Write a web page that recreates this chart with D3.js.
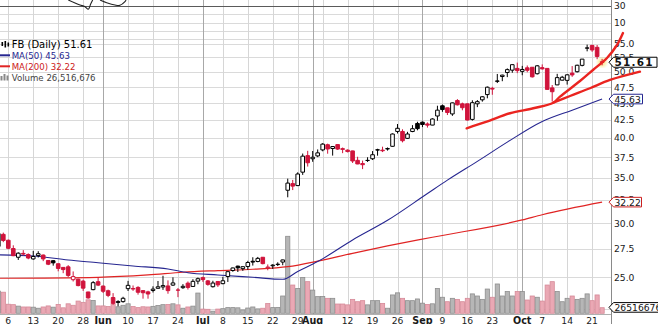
<!DOCTYPE html>
<html>
<head>
<meta charset="utf-8">
<script src="https://cdn.jsdelivr.net/npm/d3@7/dist/d3.min.js"></script>
<style>
  html, body { margin: 0; padding: 0; background: #fff; }
  svg { display: block; font-family: "DejaVu Sans", Verdana, sans-serif; }
</style>
</head>
<body>
<svg id="chart" width="658" height="324"></svg>
<script>
// FB daily candles, 2 May – 23 Oct 2013
const dates = [
  "2013-05-02","2013-05-03","2013-05-06","2013-05-07","2013-05-08","2013-05-09","2013-05-10","2013-05-13","2013-05-14","2013-05-15","2013-05-16","2013-05-17","2013-05-20","2013-05-21","2013-05-22","2013-05-23","2013-05-24","2013-05-28","2013-05-29","2013-05-30","2013-05-31",
  "2013-06-03","2013-06-04","2013-06-05","2013-06-06","2013-06-07","2013-06-10","2013-06-11","2013-06-12","2013-06-13","2013-06-14","2013-06-17","2013-06-18","2013-06-19","2013-06-20","2013-06-21","2013-06-24","2013-06-25","2013-06-26","2013-06-27","2013-06-28",
  "2013-07-01","2013-07-02","2013-07-03","2013-07-05","2013-07-08","2013-07-09","2013-07-10","2013-07-11","2013-07-12","2013-07-15","2013-07-16","2013-07-17","2013-07-18","2013-07-19","2013-07-22","2013-07-23","2013-07-24","2013-07-25","2013-07-26","2013-07-29","2013-07-30","2013-07-31",
  "2013-08-01","2013-08-02","2013-08-05","2013-08-06","2013-08-07","2013-08-08","2013-08-09","2013-08-12","2013-08-13","2013-08-14","2013-08-15","2013-08-16","2013-08-19","2013-08-20","2013-08-21","2013-08-22","2013-08-23","2013-08-26","2013-08-27","2013-08-28","2013-08-29","2013-08-30",
  "2013-09-03","2013-09-04","2013-09-05","2013-09-06","2013-09-09","2013-09-10","2013-09-11","2013-09-12","2013-09-13","2013-09-16","2013-09-17","2013-09-18","2013-09-19","2013-09-20","2013-09-23","2013-09-24","2013-09-25","2013-09-26","2013-09-27","2013-09-30",
  "2013-10-01","2013-10-02","2013-10-03","2013-10-04","2013-10-07","2013-10-08","2013-10-09","2013-10-10","2013-10-11","2013-10-14","2013-10-15","2013-10-16","2013-10-17","2013-10-18","2013-10-21","2013-10-22","2013-10-23"
];
const open = [
  27.75,28.90,28.33,27.55,26.75,27.10,27.00,26.60,26.90,26.95,26.46,26.44,26.17,25.85,25.90,24.80,24.84,24.68,23.79,23.98,24.63,
  24.27,23.89,23.35,23.03,23.03,24.06,24.07,24.16,23.90,23.80,23.91,24.09,24.20,24.28,24.35,23.95,24.14,24.51,24.24,24.68,
  24.97,24.70,24.22,24.65,24.47,25.07,25.58,25.96,25.74,25.93,26.39,26.37,26.75,25.82,25.99,26.10,26.32,33.54,34.30,34.07,35.65,37.70,
  37.30,37.66,38.43,39.11,38.61,39.13,38.59,38.40,38.30,37.10,36.70,37.10,37.30,38.45,38.40,38.60,38.90,40.90,40.90,39.96,40.89,42.02,
  42.20,41.95,41.79,43.09,44.60,44.30,43.39,45.40,44.90,44.90,42.60,44.90,45.51,46.32,47.30,48.50,49.23,49.90,50.30,50.60,
  50.10,50.70,50.80,49.70,50.73,50.60,47.38,47.86,48.63,48.60,49.80,50.04,51.12,54.18,54.68,54.33,51.75
];
const high = [
  29.05,29.07,28.40,27.85,27.20,27.40,27.10,27.33,27.30,27.00,26.50,26.50,26.18,25.88,26.05,25.50,24.88,24.80,23.81,24.68,24.95,
  24.32,23.98,23.70,23.14,23.41,24.70,24.32,24.26,23.95,23.89,24.25,24.69,25.13,24.74,25.00,24.11,24.43,24.65,24.84,24.98,
  25.06,24.77,24.71,24.66,25.04,25.49,25.83,26.00,25.93,26.43,26.75,26.78,26.77,26.11,26.13,26.30,26.53,34.88,34.73,35.63,37.96,38.31,
  38.29,38.49,39.32,39.25,38.94,39.19,38.74,38.50,38.32,37.55,37.07,37.49,38.28,38.58,38.85,38.75,40.63,41.94,41.20,40.85,41.78,42.26,
  42.30,42.17,42.76,44.61,44.79,44.30,45.09,45.62,45.08,44.94,45.44,45.47,46.05,47.60,47.55,49.66,49.54,50.60,51.28,51.60,
  51.03,51.10,50.80,51.16,51.29,50.60,47.84,49.68,49.34,49.63,51.00,51.24,52.22,54.83,54.81,54.76,52.25
];
const low = [
  27.51,28.15,27.48,26.85,26.51,26.90,26.57,26.53,26.73,26.40,26.05,26.00,25.51,25.35,25.02,24.65,24.25,23.88,23.26,23.93,24.27,
  23.71,23.38,22.79,22.67,22.95,23.87,23.88,23.58,23.26,23.26,23.75,24.08,23.96,23.65,24.28,23.38,24.04,23.99,24.21,24.42,
  24.62,24.30,24.15,24.20,24.42,24.61,25.47,25.45,25.55,25.65,26.01,26.30,26.12,25.60,25.72,25.97,26.04,32.75,33.56,34.01,35.32,36.33,
  36.92,37.50,38.25,37.94,37.70,38.43,38.01,38.10,36.77,36.62,36.02,36.90,37.14,37.69,38.15,38.34,38.85,40.62,39.42,39.88,40.80,41.06,
  41.51,41.44,41.77,42.40,43.70,43.23,43.11,44.65,43.93,42.43,42.43,44.40,45.23,45.74,46.29,48.16,48.46,49.13,49.86,49.80,
  49.45,49.95,49.06,49.57,50.40,47.08,45.26,47.83,48.57,47.91,49.18,49.90,50.95,53.60,53.51,52.20,51.13
];
const close = [
  28.97,28.31,27.57,26.89,27.12,27.04,26.68,26.82,27.07,26.60,26.13,26.25,25.76,25.66,25.16,25.06,24.31,24.10,23.32,24.55,24.35,
  23.85,23.52,22.90,22.97,23.29,24.33,24.03,23.77,23.73,23.63,24.02,24.21,24.31,23.90,24.53,23.94,24.25,24.16,24.66,24.88,
  24.81,24.41,24.52,24.37,24.71,25.48,25.80,25.81,25.91,26.28,26.32,26.65,26.18,25.88,26.05,26.13,26.51,34.36,34.01,35.43,37.63,36.80,
  37.49,38.05,39.19,38.55,38.87,38.54,38.50,38.22,37.02,36.65,36.56,37.08,37.81,38.41,38.32,38.55,40.55,41.34,39.64,40.55,41.28,41.29,
  41.87,41.78,42.66,43.95,44.04,43.60,45.04,44.75,44.31,42.51,45.07,45.23,45.98,47.49,47.19,48.45,49.46,50.39,51.24,50.23,
  50.42,50.28,49.18,51.04,50.52,47.14,46.77,49.05,49.11,49.51,49.50,51.14,52.21,54.22,53.85,52.68,51.61
];
// Volume in millions of shares
const volume = [
  105,100,43,41,34,30,30,29,24,30,35,29,42,26,45,38,58,52,64,61,35,
  35,32,45,31,38,45,32,27,31,30,33,37,41,42,45,40,24,30,34,96,
  20,19,10,20,22,27,27,26,16,25,30,21,24,46,27,28,82,365,134,118,170,150,
  110,79,80,71,71,44,44,40,66,55,60,40,60,60,47,24,87,97,71,60,60,68,
  48,42,45,118,76,55,71,66,55,71,92,82,66,115,76,139,82,103,82,103,
  103,63,82,76,58,134,150,103,55,71,82,66,71,92,60,87,26.516676
];

// Moving averages, sampled by trading-day position
const ma50Day = [0, 7, 14, 20, 27, 34, 38, 44, 51, 57, 60, 64, 71, 78, 86, 90, 96, 102, 109, 115, 121];
const ma50Val = [26.97, 26.87, 26.50, 26.26, 25.97, 25.71, 25.39, 25.20, 25.00, 24.83, 25.50, 26.36, 28.36, 30.30, 33.17, 34.70, 36.97, 39.45, 42.30, 43.95, 45.63];
const ma200Day = [0, 20, 30, 37, 44, 51, 58, 64, 71, 78, 87, 105, 109, 121];
const ma200Val = [24.92, 25.00, 25.20, 25.43, 25.57, 25.69, 25.91, 26.40, 27.11, 27.79, 28.62, 30.34, 30.88, 32.22];

// Hand-drawn trend lines and doodle, as [trading-day position, price]
const trendLower = [[93.86,41.34],[97.87,42.27],[102.54,43.49],[107.21,44.23],[111.22,45.07],[112.56,46.0],[116.57,48.49],[119.17,50.33],[121.98,52.41],[123.98,54.76],[125.18,57.02]];
const trendUpper = [[111.22,45.07],[114.57,46.10],[118.57,47.32],[122.58,48.66],[128.59,50.04]];
const doodleA = [[14.02,63.74],[15.37,63.10],[16.37,62.67],[17.37,62.32],[18.03,61.77],[18.51,62.89],[18.91,63.74]];
const doodleB = [[20.38,63.74],[21.72,63.16],[23.38,62.67],[24.38,62.61],[25.38,63.38],[25.59,63.74]];

// Axis ticks
const priceTicks = [25, 27.5, 30, 32.5, 35, 37.5, 40, 42.5, 45, 47.5, 50, 52.5, 55];
const priceGrid = [22.5].concat(priceTicks);
const topTicks = [30, 10];
const topGrid = [20, 10, 0, -10];
const tickDates = ["2013-05-06","2013-05-13","2013-05-20","2013-05-28","2013-06-03","2013-06-10","2013-06-17","2013-06-24","2013-07-01","2013-07-08","2013-07-15","2013-07-22","2013-07-29","2013-08-01","2013-08-05","2013-08-12","2013-08-19","2013-08-26","2013-09-03","2013-09-09","2013-09-16","2013-09-23","2013-09-30","2013-10-01","2013-10-07","2013-10-14","2013-10-21"];
const tickText = ["6","13","20","28","Jun","10","17","24","Jul","8","15","22","29","Aug","","12","19","26","Sep","9","16","23","","Oct","7","14","21"];

const lastClose = 51.61, lastMa50 = 45.63, lastMa200 = 32.22, lastVolume = 26516676;

// ---------------------------------------------------------------------------
const RED = "#d0143c", BLACK = "#000", NAVY = "#262690", MA_RED = "#e02424";
const plotRight = 611, plotBottom = 314;
const svg = d3.select("#chart");

const x = d3.scaleLinear().domain([0, dates.length - 1]).range([-1.68, 602.1]);
const y = d3.scaleLog().domain([25, 55]).range([277.3, 43.7]);
const yTop = d3.scaleLinear().domain([10, 30]).range([22.7, 6]);
const yVol = d3.scaleLinear().domain([0, 365]).range([313.3, 236.3]);

const crisp = v => Math.round(v) + 0.5;

svg.append("defs").append("clipPath").attr("id", "plot")
  .append("rect").attr("x", 0).attr("y", 0).attr("width", plotRight).attr("height", plotBottom);
svg.select("defs").append("filter").attr("id", "glow")
  .append("feGaussianBlur").attr("stdDeviation", 1.6);

// Grid
const grid = svg.append("g").attr("shape-rendering", "crispEdges");
grid.selectAll("line.hp").data(priceGrid).join("line")
  .attr("x1", 0).attr("x2", plotRight)
  .attr("y1", d => crisp(y(d))).attr("y2", d => crisp(y(d)))
  .attr("stroke", "#dadada");
grid.selectAll("line.ht").data(topGrid).join("line")
  .attr("x1", 0).attr("x2", plotRight)
  .attr("y1", d => crisp(yTop(d))).attr("y2", d => crisp(yTop(d)))
  .attr("stroke", "#dadada");
const tickRows = tickDates.map((d, k) => ({ j: dates.indexOf(d), label: tickText[k], month: /[A-Za-z]/.test(tickText[k]) }));
grid.selectAll("line.v").data(tickRows).join("line")
  .attr("x1", d => crisp(x(d.j))).attr("x2", d => crisp(x(d.j)))
  .attr("y1", 0).attr("y2", plotBottom)
  .attr("stroke", d => d.month ? "#a8a8a8" : "#d6d6d6");
grid.append("line").attr("x1", 0).attr("x2", plotRight)
  .attr("y1", crisp(yTop(30))).attr("y2", crisp(yTop(30))).attr("stroke", "#5a5a5a");
grid.append("line").attr("x1", 0).attr("x2", plotRight)
  .attr("y1", plotBottom + 0.5).attr("y2", plotBottom + 0.5).attr("stroke", "#b0b0b0");

// Data rows
const rows = dates.map((d, j) => ({
  j, o: open[j], h: high[j], l: low[j], c: close[j], v: volume[j],
  down: j > 0 ? close[j] < close[j - 1] : close[j] < open[j]
}));

const plot = svg.append("g").attr("clip-path", "url(#plot)");

// Volume bars
plot.append("g").selectAll("rect").data(rows).join("rect")
  .attr("x", d => x(d.j) - 2.1).attr("width", 4.2)
  .attr("y", d => yVol(d.v)).attr("height", d => yVol(0) - yVol(d.v))
  .attr("fill", d => d.down ? "#eaa8b4" : "#b6b6b6")
  .attr("stroke", d => d.down ? "#d68a98" : "#8e8e8e").attr("stroke-width", 0.8);

// Moving averages
const maLine = d3.line().x(d => x(d[0])).y(d => y(d[1])).curve(d3.curveMonotoneX);
plot.append("path").datum(ma200Day.map((d, k) => [d, ma200Val[k]]))
  .attr("d", maLine).attr("fill", "none").attr("stroke", MA_RED).attr("stroke-width", 1.2);
plot.append("path").datum(ma50Day.map((d, k) => [d, ma50Val[k]]))
  .attr("d", maLine).attr("fill", "none").attr("stroke", NAVY).attr("stroke-width", 1.1);

// Highlight behind the latest price
plot.append("circle").attr("cx", x(dates.length - 1)).attr("cy", y(lastClose)).attr("r", 4.5)
  .attr("fill", "#fbe98a").attr("opacity", 0.85).attr("filter", "url(#glow)");

// Candles
const cg = plot.append("g").selectAll("g").data(rows).join("g");
cg.append("line")
  .attr("x1", d => x(d.j)).attr("x2", d => x(d.j))
  .attr("y1", d => y(d.h)).attr("y2", d => y(d.l))
  .attr("stroke", d => d.down ? RED : BLACK).attr("stroke-width", 1);
cg.append("path")
  .attr("d", d => {
    const top = y(Math.max(d.o, d.c)), bot = y(Math.min(d.o, d.c));
    const w = 3.6, x0 = x(d.j) - w / 2;
    return `M${x0},${top}h${w}v${bot - top}h${-w}Z`;
  })
  .attr("fill", d => d.c >= d.o ? "#fff" : (d.down ? RED : BLACK))
  .attr("stroke", d => d.down ? RED : BLACK).attr("stroke-width", 1);

// Right axis
const axisG = svg.append("g");
axisG.append("line").attr("x1", plotRight + 0.5).attr("x2", plotRight + 0.5)
  .attr("y1", 0).attr("y2", 324).attr("stroke", "#8a8a8a").attr("shape-rendering", "crispEdges");
axisG.selectAll("text.p").data(priceTicks).join("text")
  .attr("x", 614).attr("y", d => y(d) + 3.4)
  .attr("font-size", 9.2).attr("fill", "#1a1a1a").text(d => d.toFixed(1));
axisG.selectAll("text.t").data(topTicks).join("text")
  .attr("x", 614).attr("y", d => yTop(d) + 3.4)
  .attr("font-size", 9.2).attr("fill", "#1a1a1a").text(d => d);

// Date axis
svg.append("g").selectAll("text").data(tickRows.filter(d => d.label)).join("text")
  .attr("x", d => x(d.j)).attr("y", 324)
  .attr("text-anchor", "middle").attr("font-size", d => d.month ? 9.6 : 9.2)
  .attr("font-weight", d => d.month ? "bold" : "normal")
  .attr("fill", "#1a1a1a").text(d => d.label);

// Legend
const lg = svg.append("g");
[[1.5, 42, 46], [4.5, 41, 47.5], [7.5, 42.5, 46.5]].forEach(b => {
  lg.append("rect").attr("x", b[0]).attr("y", b[1]).attr("width", 1.6).attr("height", b[2] - b[1]).attr("fill", "#000");
});
lg.append("text").attr("x", 11.7).attr("y", 47.5).attr("font-size", 10).attr("fill", "#000")
  .text(`FB (Daily) ${lastClose.toFixed(2)}`);
lg.append("line").attr("x1", 0).attr("x2", 10).attr("y1", 55.3).attr("y2", 55.3).attr("stroke", NAVY).attr("stroke-width", 2);
lg.append("text").attr("x", 11.7).attr("y", 58.8).attr("font-size", 8.6).attr("fill", NAVY)
  .text(`MA(50) ${lastMa50.toFixed(2)}`);
lg.append("line").attr("x1", 0).attr("x2", 10).attr("y1", 66.3).attr("y2", 66.3).attr("stroke", MA_RED).attr("stroke-width", 2);
lg.append("text").attr("x", 11.7).attr("y", 69.8).attr("font-size", 8.6).attr("fill", "#cc2020")
  .text(`MA(200) ${lastMa200.toFixed(2)}`);
[[0.5, 76], [3.5, 74], [6.5, 75.5]].forEach(b => {
  lg.append("rect").attr("x", b[0]).attr("y", b[1]).attr("width", 2).attr("height", 80.5 - b[1]).attr("fill", "#888");
});
lg.append("text").attr("x", 11.7).attr("y", 80.8).attr("font-size", 8.6).attr("fill", "#444")
  .text(`Volume ${d3.format(",")(lastVolume)}`);

// Hand-drawn annotations
const hand = d3.line().x(d => x(d[0])).y(d => y(d[1])).curve(d3.curveCatmullRom);
[trendLower, trendUpper].forEach(t => {
  svg.append("path").datum(t).attr("d", hand).attr("fill", "none")
    .attr("stroke", "#ea2420").attr("stroke-width", 2.4).attr("stroke-linecap", "round").attr("stroke-linejoin", "round");
});
[doodleA, doodleB].forEach(t => {
  svg.append("path").datum(t).attr("d", hand).attr("fill", "none")
    .attr("stroke", "#222").attr("stroke-width", 1.1);
});

// Value tags on the right axis
function tag(cy, label, stroke, opts) {
  const h = opts.h || 9.6, right = opts.right, left = 609;
  const top = cy - h / 2, bot = cy + h / 2;
  const g = svg.append("g");
  g.append("path")
    .attr("d", `M${left},${cy}L${left + 4.5},${top}H${right}V${bot}H${left + 4.5}Z`)
    .attr("fill", "#fff").attr("stroke", stroke).attr("stroke-width", 1);
  g.append("text").attr("x", left + 5.5).attr("y", cy + 3.5)
    .attr("font-size", opts.size).attr("font-weight", opts.bold ? "bold" : "normal")
    .attr("letter-spacing", opts.spacing || 0)
    .attr("fill", "#111").text(label);
}
tag(y(lastClose) - 0.3, lastClose.toFixed(2), "#000", { right: 657, size: 10.5, bold: true, spacing: 1.2, h: 10 });
tag(y(lastMa50), lastMa50.toFixed(2), NAVY, { right: 642.5, size: 9.2 });
tag(y(lastMa200), lastMa200.toFixed(2), "#cc2020", { right: 641.5, size: 9.2 });
tag(yVol(lastVolume / 1e6) - 0.3, String(lastVolume), "#000", { right: 662, size: 9.2 });
</script>
</body>
</html>
